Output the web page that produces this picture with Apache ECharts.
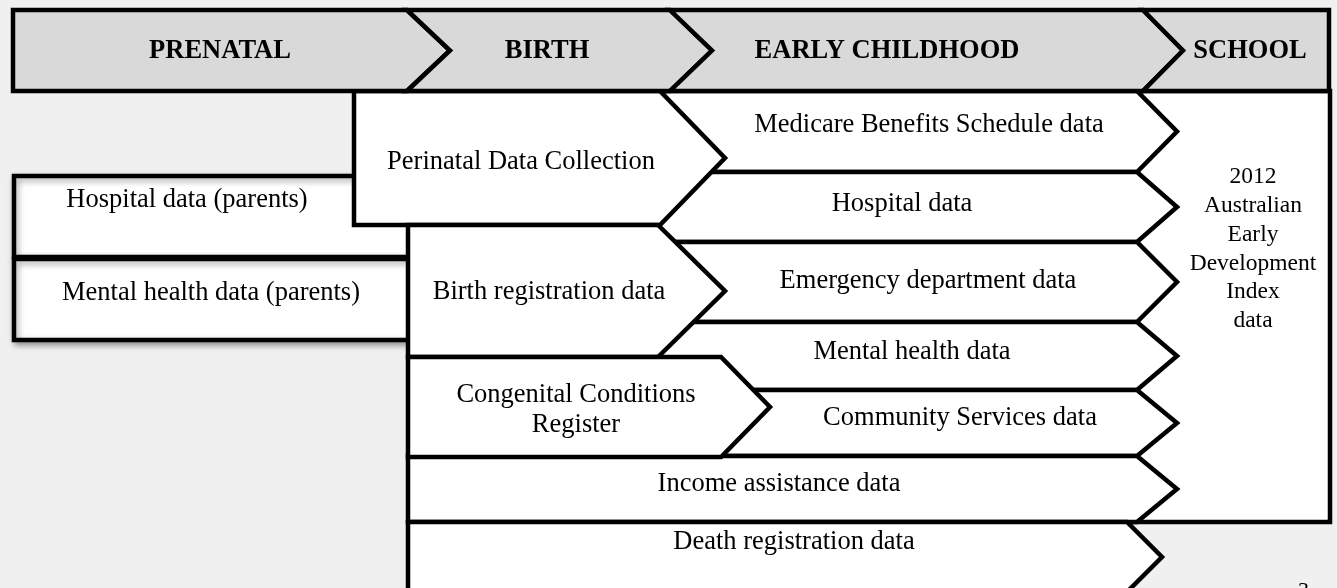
<html>
  <head>
    <meta charset="utf-8">
    <script src="https://cdn.jsdelivr.net/npm/echarts@6/dist/echarts.min.js"></script>
    <title>Linked data sources by life stage</title>
  </head>
  <body style="margin:0; background-color:#f0f0f0;">
    <div id="chart" style="width:1337px; height:588px;"></div>
    <script>
      // life stages along the top band (x extents in diagram units)
      const stages = ['PRENATAL', 'BIRTH', 'EARLY CHILDHOOD', 'SCHOOL'];
      const stageFrom = [13, 407, 670, 1143];
      const stageTo = [407, 670, 1143, 1329];
      const stageTip = [450, 712, 1183, 1329];
      const stageTop = 10, stageBottom = 91;

      // parent records, before birth
      const parentSources = ['Hospital data (parents)', 'Mental health data (parents)'];
      const parentFrom = [14, 14];
      const parentTo = [420, 420];
      const parentTop = [176, 259];
      const parentBottom = [257, 340];

      // collections started at birth
      const birthSources = ['Perinatal Data Collection', 'Birth registration data', 'Congenital Conditions\nRegister'];
      const birthFrom = [354, 408, 408];
      const birthTo = [660, 658, 721];
      const birthTip = [725, 725, 770];
      const birthTop = [91, 225, 357];
      const birthBottom = [225, 357, 457];

      // collections running through early childhood
      const childSources = ['Medicare Benefits Schedule data', 'Hospital data', 'Emergency department data',
        'Mental health data', 'Community Services data', 'Income assistance data', 'Death registration data'];
      const childFrom = [650, 650, 650, 650, 650, 408, 408];
      const childTo = [1137, 1137, 1137, 1137, 1137, 1137, 1127];
      const childTip = [1177, 1177, 1177, 1177, 1177, 1177, 1162];
      const childTop = [91, 172, 242, 322, 390, 456, 522];
      const childBottom = [172, 242, 322, 390, 456, 522, 592];

      // school census
      const schoolSources = ['2012\nAustralian\nEarly\nDevelopment\nIndex\ndata'];
      const schoolFrom = [1130], schoolTo = [1330], schoolTop = [91], schoolBottom = [522];

      // where the labels sit
      const stageLabelAt = [[220, 51], [547, 51], [887, 51], [1250, 51]];
      const parentLabelAt = [[187, 200], [211, 293]];
      const birthLabelAt = [[521, 162], [549, 292], [576, 410]];
      const childLabelAt = [[929, 125], [902, 204], [928, 281], [912, 352], [960, 418], [779, 484], [794, 542]];
      const schoolLabelAt = [[1253, 249]];

      const lineW = 4.5;
      const font = '"Liberation Serif", "Times New Roman", serif';

      function outline(api, x0, x1, tip, y0, y1, notch) {
        const ym = (y0 + y1) / 2;
        const pts = [[x0, y0], [x1, y0]];
        if (tip > x1) pts.push([tip, ym]);
        pts.push([x1, y1], [x0, y1]);
        if (notch > 0) pts.push([x0 + notch, ym]);
        return pts.map(p => api.coord(p));
      }

      function boxes(rows, labels, labelAt, opts) {
        return {
          type: 'custom',
          z: opts.z,
          silent: true,
          clip: false,
          data: rows,
          renderItem: (params, api) => {
            const v = [0, 1, 2, 3, 4, 5].map(k => api.value(k));
            const at = api.coord(labelAt[params.dataIndex]);
            return {
              type: 'group',
              children: [
                {
                  type: 'polygon',
                  shape: { points: outline(api, v[0], v[1], v[2], v[3], v[4], v[5]) },
                  style: Object.assign({ fill: opts.fill, stroke: '#000', lineWidth: lineW, lineJoin: 'miter' }, opts.shadow || {})
                },
                {
                  type: 'text',
                  style: {
                    text: labels[params.dataIndex],
                    x: at[0], y: at[1],
                    align: 'center', verticalAlign: 'middle',
                    fontFamily: font, fontSize: opts.fontSize,
                    fontWeight: opts.bold ? 'bold' : 'normal',
                    lineHeight: opts.lineHeight || opts.fontSize * 1.15,
                    fill: '#000'
                  }
                }
              ]
            };
          }
        };
      }

      const headerRows = stages.map((s, i) => [stageFrom[i], stageTo[i], stageTip[i], stageTop, stageBottom,
        i === 0 ? 0 : stageTip[i - 1] - stageTo[i - 1]]);
      const parentRows = parentSources.map((s, i) => [parentFrom[i], parentTo[i], parentTo[i], parentTop[i], parentBottom[i], 0]);
      const birthRows = birthSources.map((s, i) => [birthFrom[i], birthTo[i], birthTip[i], birthTop[i], birthBottom[i], 0]);
      const childRows = childSources.map((s, i) => [childFrom[i], childTo[i], childTip[i], childTop[i], childBottom[i], 0]);
      const schoolRows = schoolSources.map((s, i) => [schoolFrom[i], schoolTo[i], schoolTo[i], schoolTop[i], schoolBottom[i], 0]);

      const chart = echarts.init(document.getElementById('chart'));

      const option = {
        backgroundColor: '#f0f0f0',
        animation: false,
        title: {
          text: '3',
          left: 1298,
          top: 580,
          padding: 0,
          textStyle: { fontFamily: font, fontSize: 22, fontWeight: 'normal', color: '#000' }
        },
        grid: { left: 0, right: 0, top: 0, bottom: 0 },
        xAxis: { type: 'value', min: 0, max: 1337, show: false },
        yAxis: { type: 'value', min: 0, max: 588, inverse: true, show: false },
        series: [
          boxes(parentRows, parentSources, parentLabelAt, {
            z: 2, fill: '#fff', fontSize: 26.5,
            shadow: { shadowBlur: 6, shadowOffsetX: 2, shadowOffsetY: 3, shadowColor: 'rgba(0,0,0,0.35)' }
          }),
          boxes(schoolRows, schoolSources, schoolLabelAt, { z: 3, fill: '#fff', fontSize: 23.5, lineHeight: 28.7 }),
          boxes(childRows, childSources, childLabelAt, { z: 4, fill: '#fff', fontSize: 26.5 }),
          boxes(birthRows, birthSources, birthLabelAt, { z: 5, fill: '#fff', fontSize: 26.5, lineHeight: 30 }),
          boxes(headerRows, stages, stageLabelAt, { z: 6, fill: '#d9d9d9', fontSize: 26.5, bold: true })
        ]
      };

      chart.setOption(option);
    </script>
  </body>
</html>
